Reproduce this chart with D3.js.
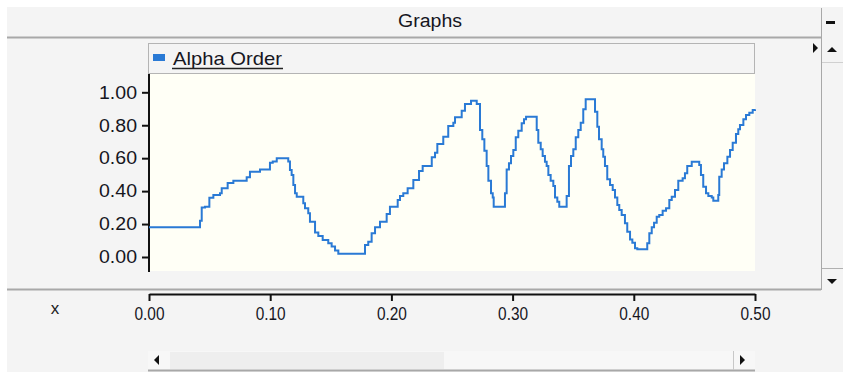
<!DOCTYPE html>
<html>
<head>
<meta charset="utf-8">
<script src="https://cdn.jsdelivr.net/npm/d3@7"></script>
<style>
	body { margin: 0; background: #fff; }
	text { font-family: Arial, "Liberation Sans", sans-serif; }
</style>
</head>
<body>
<div id="chart"></div>
<script>
// series: Alpha Order (step line)
let seriesName = "Alpha Order";
let alphaX = [0.0000, 0.0421, 0.0435, 0.0462, 0.0498, 0.0531, 0.0586, 0.0600, 0.0649, 0.0696,
	0.0806, 0.0833, 0.0916, 0.0998, 0.1021, 0.1054, 0.1149, 0.1163, 0.1177, 0.1191,
	0.1205, 0.1219, 0.1273, 0.1287, 0.1314, 0.1328, 0.1370, 0.1397, 0.1433, 0.1479,
	0.1507, 0.1535, 0.1562, 0.1782, 0.1809, 0.1837, 0.1865, 0.1906, 0.1961, 0.1988,
	0.2052, 0.2071, 0.2098, 0.2134, 0.2181, 0.2228, 0.2258, 0.2333, 0.2360, 0.2379,
	0.2428, 0.2469, 0.2511, 0.2525, 0.2580, 0.2607, 0.2657, 0.2704, 0.2731, 0.2750,
	0.2767, 0.2786, 0.2800, 0.2822, 0.2836, 0.2844, 0.2937, 0.2951, 0.2970, 0.2987,
	0.3006, 0.3026, 0.3047, 0.3075, 0.3094, 0.3111, 0.3199, 0.3212, 0.3232, 0.3248,
	0.3267, 0.3281, 0.3295, 0.3314, 0.3336, 0.3350, 0.3369, 0.3385, 0.3446, 0.3465,
	0.3482, 0.3501, 0.3521, 0.3542, 0.3562, 0.3583, 0.3603, 0.3680, 0.3699, 0.3713,
	0.3735, 0.3748, 0.3762, 0.3781, 0.3804, 0.3826, 0.3845, 0.3864, 0.3880, 0.3900,
	0.3927, 0.3946, 0.3969, 0.3988, 0.4010, 0.4029, 0.4111, 0.4128, 0.4148, 0.4167,
	0.4189, 0.4210, 0.4238, 0.4266, 0.4293, 0.4313, 0.4340, 0.4367, 0.4403, 0.4422,
	0.4441, 0.4478, 0.4540, 0.4554, 0.4573, 0.4596, 0.4615, 0.4643, 0.4656, 0.4697,
	0.4705, 0.4725, 0.4744, 0.4772, 0.4794, 0.4816, 0.4843, 0.4862, 0.4876, 0.4904,
	0.4926, 0.4953, 0.4981, 0.5000];
let alphaY = [0.180, 0.220, 0.300, 0.305, 0.360, 0.376, 0.387, 0.417, 0.450, 0.463,
	0.484, 0.518, 0.532, 0.573, 0.580, 0.600, 0.580, 0.528, 0.498, 0.437,
	0.387, 0.366, 0.326, 0.296, 0.265, 0.214, 0.148, 0.128, 0.103, 0.083,
	0.063, 0.040, 0.020, 0.073, 0.093, 0.144, 0.180, 0.214, 0.261, 0.305,
	0.346, 0.370, 0.387, 0.417, 0.467, 0.522, 0.553, 0.605, 0.633, 0.686,
	0.730, 0.795, 0.815, 0.848, 0.888, 0.929, 0.949, 0.929, 0.771, 0.715,
	0.645, 0.553, 0.463, 0.387, 0.362, 0.305, 0.387, 0.532, 0.569, 0.613,
	0.650, 0.727, 0.767, 0.812, 0.836, 0.852, 0.771, 0.694, 0.654, 0.613,
	0.579, 0.553, 0.498, 0.463, 0.431, 0.362, 0.336, 0.305, 0.370, 0.553,
	0.613, 0.654, 0.727, 0.771, 0.815, 0.897, 0.958, 0.882, 0.791, 0.715,
	0.654, 0.609, 0.553, 0.472, 0.437, 0.407, 0.362, 0.316, 0.285, 0.255,
	0.205, 0.154, 0.107, 0.087, 0.053, 0.047, 0.083, 0.144, 0.180, 0.208,
	0.245, 0.255, 0.281, 0.296, 0.346, 0.366, 0.407, 0.463, 0.478, 0.508,
	0.553, 0.579, 0.559, 0.498, 0.427, 0.387, 0.370, 0.362, 0.342, 0.376,
	0.488, 0.532, 0.569, 0.609, 0.650, 0.694, 0.747, 0.775, 0.801, 0.836,
	0.862, 0.876, 0.892, 0.897];

let xTicks = [0, 0.1, 0.2, 0.3, 0.4, 0.5];
let yTicks = [0, 0.2, 0.4, 0.6, 0.8, 1.0];

let data = alphaX.map((x, i) => ({ x: x, y: alphaY[i] }));

let width = 843;
let height = 375;
let plot = { left: 149, right: 755, top: 74, bottom: 271 };
let textColor = '#16161e';

let svg = d3.select('#chart')
	.append('svg')
	.attr('width', width)
	.attr('height', height);

// panel background
svg.append('rect')
	.attr('x', 7).attr('y', 7)
	.attr('width', width - 7).attr('height', 365)
	.attr('fill', '#f4f4f4');

// title bar
svg.append('text')
	.attr('x', 430).attr('y', 27)
	.attr('text-anchor', 'middle')
	.style('font-size', '18px')
	.attr('fill', textColor)
	.attr('textLength', 64).attr('lengthAdjust', 'spacingAndGlyphs')
	.text('Graphs');
svg.append('line')
	.attr('x1', 7).attr('x2', 821).attr('y1', 37.5).attr('y2', 37.5)
	.attr('stroke', '#a8a8a8').attr('stroke-width', 2);
svg.append('rect')
	.attr('x', 826).attr('y', 21).attr('width', 9).attr('height', 3)
	.attr('fill', '#111');

// right vertical scrollbar
svg.append('line')
	.attr('x1', 821.5).attr('x2', 821.5).attr('y1', 8).attr('y2', 290)
	.attr('stroke', '#a8a8a8');
svg.append('line')
	.attr('x1', 822).attr('x2', 843).attr('y1', 62.5).attr('y2', 62.5)
	.attr('stroke', '#d0d0d0');
svg.append('line')
	.attr('x1', 822).attr('x2', 843).attr('y1', 268.5).attr('y2', 268.5)
	.attr('stroke', '#b0b0b0');
svg.append('path')
	.attr('d', 'M832,47 L837,52 L827,52 Z').attr('fill', '#111');
svg.append('path')
	.attr('d', 'M827,279 L837,279 L832,284 Z').attr('fill', '#111');
svg.append('path')
	.attr('d', 'M813,43 L818,48 L813,53 Z').attr('fill', '#111');

// legend header
svg.append('rect')
	.attr('x', 148.5).attr('y', 43.5)
	.attr('width', 606).attr('height', 30)
	.attr('fill', '#f4f4f4')
	.attr('stroke', '#b4b4b4');
svg.append('rect')
	.attr('x', 153).attr('y', 54).attr('width', 12).attr('height', 7)
	.attr('fill', '#2a7ad5');
svg.append('text')
	.attr('x', 173).attr('y', 65)
	.style('font-size', '19px')
	.attr('fill', textColor)
	.attr('textLength', 109).attr('lengthAdjust', 'spacingAndGlyphs')
	.text(seriesName);
svg.append('line')
	.attr('x1', 172).attr('x2', 283).attr('y1', 68.5).attr('y2', 68.5)
	.attr('stroke', '#222').attr('stroke-width', 1.5);

// plot area
svg.append('rect')
	.attr('x', plot.left).attr('y', plot.top)
	.attr('width', plot.right - plot.left).attr('height', plot.bottom - plot.top)
	.attr('fill', '#fffff6');

let xScale = d3.scaleLinear()
	.domain([0, 0.5])
	.range([plot.left, plot.right]);

let yScale = d3.scaleLinear()
	.domain([0, 1])
	.range([257, 92.3]);

// y axis
let yAxis = svg.append('g')
	.attr('transform', `translate(${plot.left},0)`)
	.call(d3.axisLeft(yScale).tickValues(yTicks).tickFormat(d3.format('.2f')).tickSize(7).tickSizeOuter(0).tickPadding(5));
yAxis.select('.domain').remove();
yAxis.append('line')
	.attr('x1', 0).attr('x2', 0).attr('y1', plot.top).attr('y2', plot.bottom + 1)
	.attr('stroke', '#111').attr('stroke-width', 2);
yAxis.selectAll('.tick line').attr('stroke', '#111').attr('stroke-width', 2);
yAxis.selectAll('.tick text')
	.style('font-size', '18px')
	.style('font-family', 'Arial, "Liberation Sans", sans-serif')
	.attr('fill', textColor)
	.attr('textLength', 38).attr('lengthAdjust', 'spacingAndGlyphs');

// the line
let line = d3.line()
	.x(d => xScale(d.x))
	.y(d => yScale(d.y))
	.curve(d3.curveStepAfter);

svg.append('path')
	.datum(data)
	.attr('d', line)
	.attr('fill', 'none')
	.attr('stroke', '#2a7ad5')
	.attr('stroke-width', 2);

// separator
svg.append('line')
	.attr('x1', 7).attr('x2', 821).attr('y1', 289.5).attr('y2', 289.5)
	.attr('stroke', '#a8a8a8').attr('stroke-width', 2);

// x axis
let xAxis = svg.append('g')
	.attr('transform', `translate(0,294)`)
	.call(d3.axisBottom(xScale).tickValues(xTicks).tickFormat(d3.format('.2f')).tickSize(7).tickSizeOuter(0).tickPadding(6));
xAxis.select('.domain').attr('stroke', '#111').attr('stroke-width', 2);
xAxis.selectAll('.tick line').attr('stroke', '#111').attr('stroke-width', 2);
xAxis.selectAll('.tick text')
	.style('font-size', '18px')
	.style('font-family', 'Arial, "Liberation Sans", sans-serif')
	.attr('fill', textColor)
	.attr('textLength', 30).attr('lengthAdjust', 'spacingAndGlyphs');

svg.append('text')
	.attr('x', 55).attr('y', 314)
	.attr('text-anchor', 'middle')
	.style('font-size', '17px')
	.attr('fill', '#222')
	.text('x');

// horizontal scrollbar
svg.append('rect')
	.attr('x', 148).attr('y', 351).attr('width', 607).attr('height', 19)
	.attr('fill', '#f7f7f7');
svg.append('rect')
	.attr('x', 170).attr('y', 352).attr('width', 274).attr('height', 17)
	.attr('fill', '#eeeeee');
svg.append('line')
	.attr('x1', 148).attr('x2', 755).attr('y1', 370.5).attr('y2', 370.5)
	.attr('stroke', '#a8a8a8').attr('stroke-width', 2);
svg.append('path')
	.attr('d', 'M159,355 L154,360 L159,365 Z').attr('fill', '#111');
svg.append('path')
	.attr('d', 'M740,355 L745,360 L740,365 Z').attr('fill', '#111');
svg.append('line')
	.attr('x1', 733.5).attr('x2', 733.5).attr('y1', 351).attr('y2', 370)
	.attr('stroke', '#c8c8c8');
</script>
</body>
</html>
